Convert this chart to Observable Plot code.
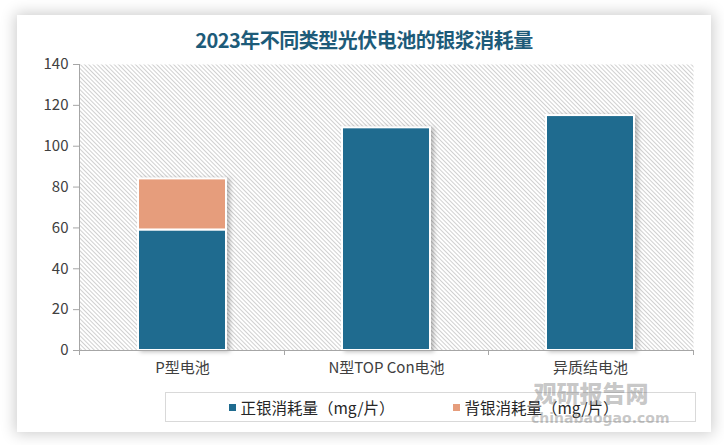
<!DOCTYPE html>
<html>
<head>
<meta charset="utf-8">
<script src="https://cdn.jsdelivr.net/npm/d3@7"></script>
<script src="https://cdn.jsdelivr.net/npm/@observablehq/plot@0.6"></script>
<style>
  html, body { margin: 0; padding: 0; }
  body { width: 724px; height: 445px; overflow: hidden; position: relative; background: #ffffff; font-family: "Noto Sans CJK SC", "Noto Sans", sans-serif; }
  #card { position: absolute; left: 17px; top: 15px; width: 694px; height: 417px; background: #fff; box-shadow: 0 0 14px 2px rgba(0,0,0,0.2); }
  #title { position: absolute; left: 0; top: 29px; width: 728px; text-align: center; font-size: 20px; font-weight: bold; line-height: 22px; color: #1d5b79; letter-spacing: -0.5px; }
  #chart { position: absolute; left: 0; top: 50px; }
  #legend { position: absolute; left: 165px; top: 392px; width: 515px; height: 28px; border: 1px solid #d9d9d9; display: flex; justify-content: center; align-items: center; gap: 58px; font-size: 15.5px; color: #262626; padding-right: 14px; box-sizing: content-box; }
  #legend .item { display: flex; align-items: center; gap: 5px; }
  #legend .sw { width: 7px; height: 7px; display: inline-block; }
  #wm { position: absolute; left: 531px; top: 380px; width: 120px; color: rgba(120,120,120,0.42); pointer-events: none; text-align: center; }
  #wm .big { font-size: 23px; font-weight: 900; line-height: 25px; letter-spacing: 0px; }
  #wm .small { font-size: 14px; font-family: "DejaVu Sans", sans-serif; line-height: 18px; font-weight: bold; margin-top: 4px; }
</style>
</head>
<body>
<div id="card"></div>
<div id="title">2023年不同类型光伏电池的银浆消耗量</div>
<div id="chart"></div>
<div id="legend"></div>
<div id="wm"><div class="big">观研报告网</div><div class="small">chinabaogao.com</div></div>
<script>
const categories = ["P型电池", "N型TOP Con电池", "异质结电池"];
const seriesNames = ["正银消耗量（mg/片）", "背银消耗量（mg/片）"];
const frontSilver = [59, 109, 115];
const backSilver = [25, 0, 0];
const yTicks = [0, 20, 40, 60, 80, 100, 120, 140];
const seriesColors = ["#1f6b8f", "#e69d7c"];

const rows = [];
categories.forEach((c, i) => {
  if (frontSilver[i] > 0) rows.push({cat: c, series: seriesNames[0], value: frontSilver[i]});
  if (backSilver[i] > 0) rows.push({cat: c, series: seriesNames[1], value: backSilver[i]});
});

const axisLines = (index, scales, values, dimensions) => {
  const {width, marginLeft, marginRight} = dimensions;
  const g = d3.create("svg:g").attr("stroke", "#a6a6a6").attr("stroke-width", 1);
  const y0 = scales.y(0);
  const yTop = scales.y(d3.max(yTicks));
  g.append("line").attr("x1", marginLeft).attr("x2", width - marginRight).attr("y1", y0 + 0.5).attr("y2", y0 + 0.5);
  g.append("line").attr("x1", marginLeft + 0.5).attr("x2", marginLeft + 0.5).attr("y1", yTop).attr("y2", y0);
  const step = (width - marginLeft - marginRight) / categories.length;
  for (let k = 0; k <= categories.length; k++) {
    const x = Math.round(marginLeft + k * step) + 0.5;
    g.append("line").attr("x1", x).attr("x2", x).attr("y1", y0).attr("y2", y0 + 5);
  }
  return g.node();
};

const plot = Plot.plot({
  width: 724,
  height: 340,
  marginTop: 14,
  marginBottom: 40,
  marginLeft: 79,
  marginRight: 31,
  style: {fontFamily: '"Noto Sans CJK SC", "Noto Sans", sans-serif', fontSize: "15px", color: "#404040", background: "transparent", overflow: "visible"},
  x: {domain: categories, paddingInner: 0.57, paddingOuter: 0.285, label: null, tickSize: 0, tickPadding: 12},
  y: {domain: [0, 140], ticks: yTicks, label: null, tickSize: 6, tickPadding: 5},
  color: {domain: seriesNames, range: seriesColors},
  marks: [
    Plot.frame({fill: "url(#hatch)", stroke: "none"}),
    Plot.barY(rows, {x: "cat", y: "value", fill: "series", stroke: "white", strokeWidth: 2}),
    axisLines
  ]
});

const svg = d3.select(plot);
svg.insert("defs", ":first-child").html(
  '<pattern id="hatch" patternUnits="userSpaceOnUse" width="3" height="3" patternTransform="rotate(-45)">' +
  '<rect width="3" height="3" fill="#ffffff"/>' +
  '<line x1="1.5" y1="-1" x2="1.5" y2="4" stroke="#d0d0d0" stroke-width="1"/></pattern>'
);
svg.selectAll("g[aria-label='bar']").style("filter", "drop-shadow(3px 1px 2px rgba(0,0,0,0.25))");
svg.selectAll("g[aria-label^='y-axis'] line, g[aria-label^='y-axis'] path").attr("stroke", "#a6a6a6");
svg.selectAll("g[aria-label='y-axis tick']").attr("stroke", "#a6a6a6");
document.getElementById("chart").appendChild(plot);

const legend = d3.select("#legend");
seriesNames.forEach((s, i) => {
  const it = legend.append("div").attr("class", "item");
  it.append("span").attr("class", "sw").style("background", seriesColors[i]);
  it.append("span").text(s);
});
</script>
</body>
</html>
